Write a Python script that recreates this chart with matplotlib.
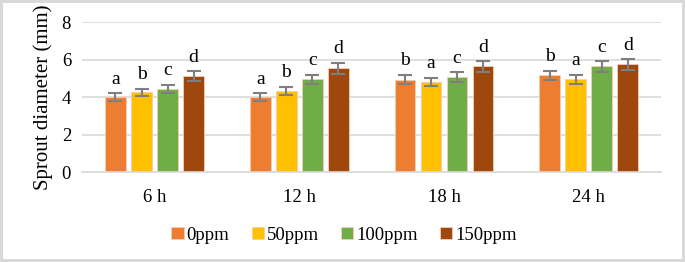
import numpy as np
import matplotlib.pyplot as plt

groups = ['6 h', '12 h', '18 h', '24 h']
series = ['0ppm', '50ppm', '100ppm', '150ppm']
colors = ['#ED7D31', '#FFC000', '#70AD47', '#9E480E']

values = [
    [4.00, 4.00, 4.92, 5.16],   # 0ppm
    [4.25, 4.32, 4.80, 4.94],   # 50ppm
    [4.43, 4.94, 5.07, 5.63],   # 100ppm
    [5.12, 5.53, 5.63, 5.74],   # 150ppm
]
errors = [
    [0.20, 0.20, 0.25, 0.25],
    [0.20, 0.22, 0.22, 0.25],
    [0.22, 0.25, 0.25, 0.28],
    [0.25, 0.28, 0.28, 0.28],
]
letters = [
    ['a', 'a', 'b', 'b'],
    ['b', 'b', 'a', 'a'],
    ['c', 'c', 'c', 'c'],
    ['d', 'd', 'd', 'd'],
]

plt.rcParams['font.family'] = ['Liberation Serif', 'DejaVu Serif']

fig = plt.figure(figsize=(6.85, 2.62), dpi=100)
fig.patch.set_edgecolor('#d9d9d9')
fig.patch.set_linewidth(3)
ax = fig.add_axes([0.12, 0.3435, 0.845, 0.5725])

x = np.arange(len(groups))
pitch = 0.18
width = 0.143
for i, (name, col) in enumerate(zip(series, colors)):
    pos = x + (i - 1.5) * pitch
    ax.bar(pos, values[i], width, color=col, edgecolor='#f4cdb5', linewidth=0.6,
           label=name, zorder=2)
    ax.errorbar(pos, values[i], yerr=errors[i], fmt='none', ecolor='#7f7f7f',
                elinewidth=1.5, capsize=5, capthick=1.5, zorder=3)
    for xp, v, e, t in zip(pos, values[i], errors[i], letters[i]):
        ax.text(xp, v + e + 0.3, t, ha='center', va='bottom', fontsize=14)

ax.set_xlim(-0.5, len(groups) - 0.5)
ax.set_ylim(0, 8)
ax.set_yticks([0, 2, 4, 6, 8])
ax.set_xticks(x)
ax.set_xticklabels(groups)
ax.tick_params(axis='both', length=0, labelsize=13.5)
ax.tick_params(axis='x', pad=12)
ax.tick_params(axis='y', pad=8)
ax.grid(axis='y', color='#d9d9d9', linewidth=1.2, zorder=0)
ax.set_axisbelow(True)
for s in ['top', 'right', 'left']:
    ax.spines[s].set_visible(False)
ax.spines['bottom'].set_color('#d9d9d9')
ax.spines['bottom'].set_linewidth(1.2)
ax.set_ylabel('Sprout diameter (mm)', fontsize=15, labelpad=6)

ax.legend(loc='center', bbox_to_anchor=(0.4525, -0.42), ncol=4, frameon=False,
          fontsize=13.5, handlelength=0.65, handleheight=0.65, handletextpad=0.15,
          columnspacing=1.2, borderaxespad=0, borderpad=0)

fig.savefig('out.png', dpi=100)
